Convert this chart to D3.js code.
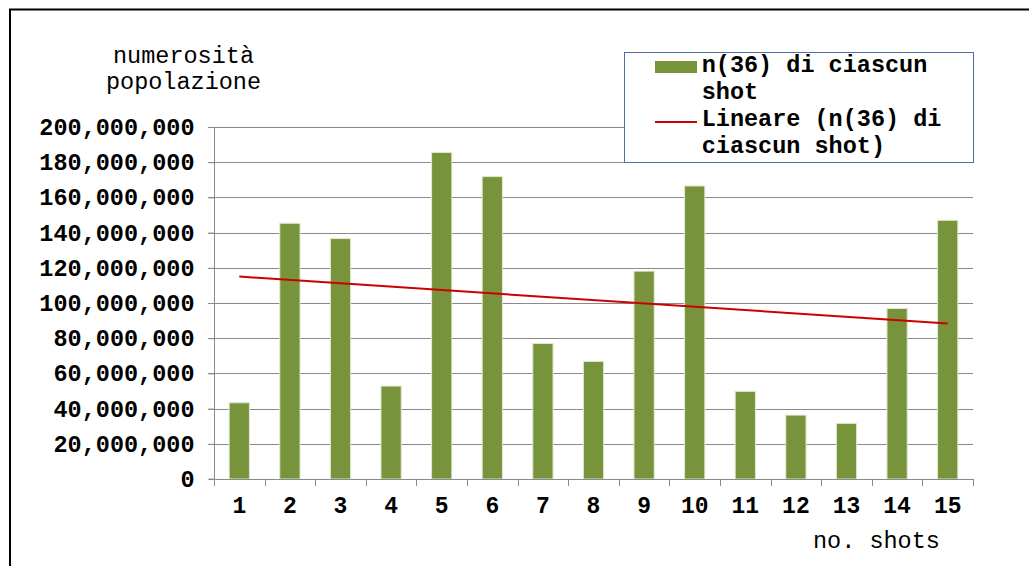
<!DOCTYPE html>
<html>
<head>
<meta charset="utf-8">
<script src="https://cdn.jsdelivr.net/npm/d3@7"></script>
<style>
  html, body { margin: 0; padding: 0; background: #fff; }
  svg { display: block; }
  text { font-family: "Courier New", "Liberation Mono", monospace; fill: #000; }
</style>
</head>
<body>
<svg id="chart" width="1029" height="566"></svg>
<script>
// Population count n(36) for each shot
const shots = [1, 2, 3, 4, 5, 6, 7, 8, 9, 10, 11, 12, 13, 14, 15];
const counts = [43.3e6, 145.3e6, 136.6e6, 52.8e6, 185.5e6, 171.8e6, 77.0e6, 66.8e6,
                118.1e6, 166.5e6, 49.8e6, 36.3e6, 31.6e6, 96.9e6, 147.0e6];
const yTicks = [0, 20e6, 40e6, 60e6, 80e6, 100e6, 120e6, 140e6, 160e6, 180e6, 200e6];
const yTitle = ["numerosità", "popolazione"];
const xTitle = "no. shots";
const legendBar = ["n(36) di ciascun", "shot"];
const legendLine = ["Lineare (n(36) di", "ciascun shot)"];

const svg = d3.select("#chart");

// frame around the chart
svg.append("path")
  .attr("d", "M10,1100 L10,9.5 L1100,9.5")
  .attr("fill", "none").attr("stroke", "#000").attr("stroke-width", 2);

const plot = { left: 214, right: 973, top: 127, bottom: 479 };

const x = d3.scaleBand().domain(shots).range([plot.left, plot.right]).padding(0);
const y = d3.scaleLinear().domain([0, 200e6]).range([plot.bottom, plot.top]);

const grid = "#8a8a8a";

// horizontal gridlines with small ticks to the left of the axis
svg.append("g").selectAll("line").data(yTicks.filter(d => d > 0)).join("line")
  .attr("x1", plot.left - 6).attr("x2", plot.right)
  .attr("y1", d => Math.round(y(d)) + 0.5).attr("y2", d => Math.round(y(d)) + 0.5)
  .attr("stroke", grid).attr("stroke-width", 1);

// y axis
const yAxis = d3.axisLeft(y).tickValues(yTicks).tickSize(6).tickPadding(14)
  .tickFormat(d3.format(","));
const gy = svg.append("g").attr("transform", `translate(${plot.left + 0.5},0)`).call(yAxis);
gy.select(".domain").attr("stroke", grid).attr("d", `M-6,${y(0)}H0V${plot.top}`);
gy.selectAll(".tick line").attr("stroke", grid);
gy.selectAll(".tick text")
  .attr("font-family", '"Courier New", "Liberation Mono", monospace')
  .attr("font-size", 23.5).attr("font-weight", "bold").attr("fill", "#000");

// bars
const bw = x.bandwidth() * 0.4;
svg.append("g").selectAll("rect").data(shots).join("rect")
  .attr("x", d => x(d) + (x.bandwidth() - bw) / 2)
  .attr("width", bw)
  .attr("y", (d, i) => y(counts[i]))
  .attr("height", (d, i) => y(0) - y(counts[i]))
  .attr("fill", "#77933c")
  .attr("stroke", "#dfe9cc").attr("stroke-width", 1);

// x axis
const xAxis = d3.axisBottom(x).tickSize(0).tickPadding(0);
const gx = svg.append("g").attr("transform", `translate(0,${Math.round(y(0)) + 0.5})`).call(xAxis);
gx.select(".domain").attr("stroke", grid).attr("d", `M${plot.left},0H${plot.right}`);
gx.selectAll(".tick text")
  .attr("font-family", '"Courier New", "Liberation Mono", monospace')
  .attr("font-size", 23).attr("font-weight", "bold").attr("fill", "#000")
  .attr("dy", null).attr("y", 33.5);
// category boundary ticks
svg.append("g").selectAll("line").data(shots.concat([null])).join("line")
  .attr("x1", (d, i) => Math.round(plot.left + i * x.step()) + 0.5)
  .attr("x2", (d, i) => Math.round(plot.left + i * x.step()) + 0.5)
  .attr("y1", Math.round(y(0))).attr("y2", Math.round(y(0)) + 7)
  .attr("stroke", grid);

// linear trend line (least squares fit)
const n = shots.length;
const mx = d3.mean(shots), my = d3.mean(counts);
const sxy = d3.sum(shots, (s, i) => (s - mx) * (counts[i] - my));
const sxx = d3.sum(shots, s => (s - mx) * (s - mx));
const slope = sxy / sxx, intercept = my - slope * mx;
const cx = s => x(s) + x.bandwidth() / 2;
const trend = [shots[0], shots[n - 1]].map(s => [cx(s), y(intercept + slope * s)]);
svg.append("path")
  .attr("d", d3.line()(trend))
  .attr("fill", "none").attr("stroke", "#cc0000").attr("stroke-width", 2);

// axis titles
const yt = svg.append("text").attr("text-anchor", "middle")
  .attr("font-size", 23.5);
yt.append("tspan").attr("x", 183.5).attr("y", 62.5).text(yTitle[0]);
yt.append("tspan").attr("x", 183.5).attr("y", 89).text(yTitle[1]);

svg.append("text").attr("x", 813).attr("y", 548).attr("font-size", 23.5).text(xTitle);

// legend
const lg = svg.append("g");
lg.append("rect").attr("x", 624.5).attr("y", 52.5).attr("width", 349).attr("height", 110)
  .attr("fill", "#fff").attr("stroke", "#4f6fa6").attr("stroke-width", 1);
lg.append("rect").attr("x", 655).attr("y", 61).attr("width", 42).attr("height", 12)
  .attr("fill", "#77933c");
lg.append("line").attr("x1", 655).attr("x2", 697).attr("y1", 122).attr("y2", 122)
  .attr("stroke", "#cc0000").attr("stroke-width", 2);
const legText = [[legendBar[0], 71.7], [legendBar[1], 99.3], [legendLine[0], 126], [legendLine[1], 153.3]];
lg.selectAll("text.leg").data(legText).join("text").attr("class", "leg")
  .attr("x", 701.7).attr("y", d => d[1])
  .attr("font-size", 23.5).attr("font-weight", "bold")
  .text(d => d[0]);
</script>
</body>
</html>
